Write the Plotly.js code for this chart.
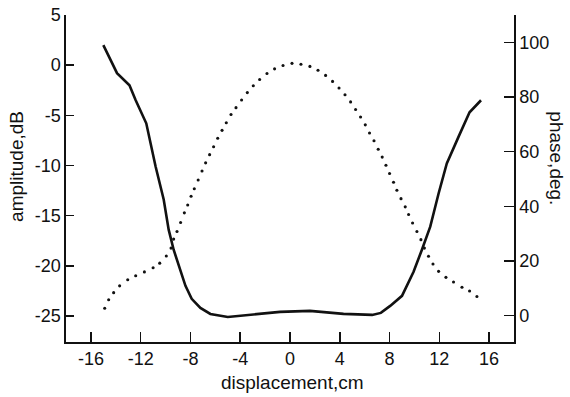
<!DOCTYPE html>
<html>
<head>
<meta charset="utf-8">
<script src="https://cdn.plot.ly/plotly-3.0.1.min.js"></script>
<style>html,body{margin:0;padding:0;background:#fff;}#chart{width:570px;height:397px;}</style>
</head>
<body>
<div id="chart"></div>
<script>
// amplitude (solid line, left axis, dB)
const ampX = [-15, -13.9, -12.9, -12.4, -11.55, -10.8, -10.15, -9.75, -9.35, -8.8, -8.4, -7.9, -7.2, -6.4, -5.0, -0.8, 1.6, 4.3, 6.6, 7.3, 8.05, 9.0, 9.93, 10.6, 11.27, 11.94, 12.6, 13.54, 14.43, 15.35];
const ampY = [2.0, -0.8, -2.0, -3.5, -5.8, -10.1, -13.4, -16.4, -18.4, -20.4, -22.0, -23.3, -24.2, -24.8, -25.1, -24.6, -24.5, -24.8, -24.9, -24.7, -24.0, -23.0, -20.6, -18.4, -16.1, -12.8, -9.8, -7.15, -4.7, -3.5];

// phase (dotted, right axis, deg)
const phaseX = [-14.89, -14.57, -14.17, -13.69, -13.04, -12.4, -11.7, -11.0, -10.47, -9.94, -9.56, -9.35, -9.08, -8.79, -8.49, -8.22, -7.95, -7.69, -7.38,
  -7.07, -6.78, -6.46, -6.14, -5.81, -5.46, -5.12, -4.74, -4.34, -3.89, -3.43, -2.95, -2.44, -1.85, -1.24, -0.56, 0.16, 0.88, 1.6, 2.25, 2.86, 3.42, 3.94, 4.42, 4.87, 5.27, 5.67, 6.05, 6.39, 6.75, 7.09, 7.41, 7.71, 8.0,
  8.32, 8.59, 8.92, 9.26, 9.53, 9.85, 10.2, 10.52, 10.8, 11.13, 11.49, 11.94, 12.53, 13.14, 13.82, 14.43, 15.02];
const phaseY = [2.7, 5.8, 8.4, 10.9, 13.1, 14.6, 16.0, 17.5, 19.2, 21.8, 24.7, 28.0, 30.8, 34.1, 37.6, 40.5, 43.7, 46.4, 49.6,
  52.9, 55.9, 58.9, 61.8, 64.9, 67.8, 70.6, 73.6, 76.1, 78.9, 81.6, 84.1, 86.4, 88.6, 90.3, 91.5, 92.3, 92.0, 91.2, 89.8, 87.9, 85.7, 83.3, 80.8, 78.2, 75.4, 72.7, 69.8, 66.8, 64.0, 60.9, 58.0, 55.0, 52.0,
  48.8, 45.9, 42.8, 39.8, 37.0, 33.9, 30.8, 27.8, 24.7, 21.7, 18.9, 16.2, 14.0, 12.3, 10.4, 9.0, 7.0];

const xTicks = [-16, -12, -8, -4, 0, 4, 8, 12, 16];
const yTicks = [-25, -20, -15, -10, -5, 0, 5];
const y2Ticks = [0, 20, 40, 60, 80, 100];

const FONT = 'Liberation Sans, Arial, Helvetica, sans-serif';
const INK = '#111';

const traces = [
  {x: ampX, y: ampY, type: 'scatter', mode: 'lines', line: {color: INK, width: 2.6}, yaxis: 'y', hoverinfo: 'skip'},
  {x: phaseX, y: phaseY, type: 'scatter', mode: 'markers', marker: {color: INK, size: 3.1, line: {width: 0}}, yaxis: 'y2', hoverinfo: 'skip'}
];

const axisCommon = {
  showgrid: false, zeroline: false, showline: true, linecolor: INK, linewidth: 1.6,
  ticks: 'inside', tickcolor: INK, tickwidth: 1.6, ticklen: 10,
  tickfont: {family: FONT, size: 18, color: INK}, mirror: false, fixedrange: true
};

const layout = {
  width: 570, height: 397,
  margin: {l: 66, r: 56, t: 15, b: 55, pad: 0},
  paper_bgcolor: '#fff', plot_bgcolor: '#fff',
  showlegend: false,
  xaxis: Object.assign({}, axisCommon, {range: [-18, 18], tickmode: 'array', tickvals: xTicks, ticktext: xTicks.map(String)}),
  yaxis: Object.assign({}, axisCommon, {range: [-27.6, 5], tickmode: 'array', tickvals: yTicks, ticktext: yTicks.map(String), ticklen: 8}),
  yaxis2: Object.assign({}, axisCommon, {range: [-9.65, 110], overlaying: 'y', side: 'right', tickmode: 'array', tickvals: y2Ticks, ticktext: y2Ticks.map(String)}),
  annotations: [
    {text: 'displacement,cm', xref: 'paper', yref: 'paper', x: 0.505, y: -0.125, xanchor: 'center', yanchor: 'middle', showarrow: false, font: {family: FONT, size: 19, color: INK}},
    {text: 'amplitude,dB', xref: 'paper', yref: 'paper', x: -0.112, y: 0.538, xanchor: 'center', yanchor: 'middle', textangle: -90, showarrow: false, font: {family: FONT, size: 19, color: INK}},
    {text: 'phase,deg.', xref: 'paper', yref: 'paper', x: 1.095, y: 0.563, xanchor: 'center', yanchor: 'middle', textangle: 90, showarrow: false, font: {family: FONT, size: 19, color: INK}}
  ]
};

Plotly.newPlot('chart', traces, layout, {staticPlot: true, displayModeBar: false});
</script>
</body>
</html>
